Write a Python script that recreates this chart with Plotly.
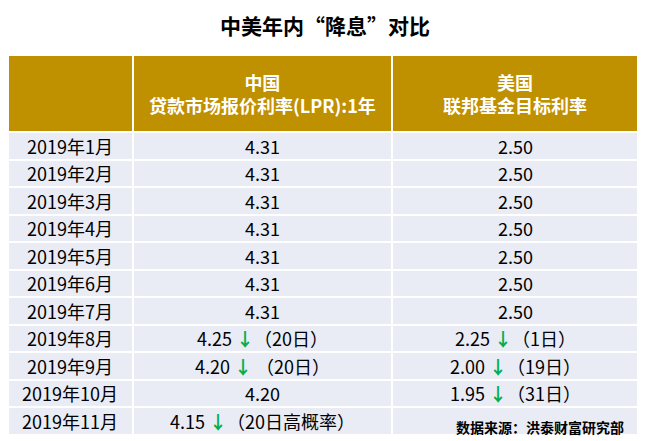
import plotly.graph_objects as go

months = [f"2019年{i}月" for i in range(1, 12)]
cn_vals = ["4.31"] * 7 + ["4.25", "4.20", "4.20", "4.15"]
cn_notes = [""] * 7 + ["（20日）", " （20日）", "", "（20日高概率）"]
cn_down = [False] * 7 + [True, True, False, True]
us_vals = ["2.50"] * 7 + ["2.25", "2.00", "1.95", ""]
us_notes = [""] * 7 + ["（1日）", "（19日）", "（31日）", ""]
us_down = [False] * 7 + [True, True, True, False]
header_lines = [("中国", "贷款市场报价利率(LPR):1年"), ("美国", "联邦基金目标利率")]

ARROW = '<span style="color:#00b050"><b>↓</b></span>'

font = "Noto Sans CJK SC"
OFF = 8  # page body margin
W, H = 650 - OFF, 441 - OFF
x0, x1 = 7 - OFF, 638 - OFF
x0 = max(x0, 0)
top, header_h, row_h = 55 - OFF, 77, 27.5
widths = [125, 260, 246]

fig = go.Figure(go.Table(
    domain=dict(x=[x0/W, x1/W], y=[0, 1 - top/H]),
    columnwidth=widths,
    header=dict(values=["", "", ""], fill_color="#bf9000", line=dict(color="white", width=2),
                height=header_h),
    cells=dict(values=[[""] * len(months)] * 3,
               fill_color="#e9ebf5", line=dict(color="white", width=2), height=row_h),
))
anns = []
def ann(text, xpx, ypx, size, color="black", **kw):
    d = dict(text=text, x=xpx / W, y=1 - ypx / H, xref="paper", yref="paper",
             xanchor="center", yanchor="middle", align="center", showarrow=False,
             font=dict(family=font, size=size, color=color))
    d.update(kw)
    anns.append(d)

left = 7 - OFF
col_centers = []
for w in widths:
    col_centers.append(left + w / 2)
    left += w
for cx, (a, b) in zip(col_centers[1:], header_lines):
    ann(f"<b>{a}</b><br><b>{b}</b>", cx, top + header_h / 2, 18, "white")

def txt(v, n, d):
    return f"{v} {ARROW}{n}" if d else v

for i in range(len(months)):
    yc = top + header_h + row_h * (i + 0.5)
    ann(months[i], col_centers[0], yc, 18)
    ann(txt(cn_vals[i], cn_notes[i], cn_down[i]), col_centers[1], yc, 18)
    if us_vals[i]:
        ann(txt(us_vals[i], us_notes[i], us_down[i]), col_centers[2], yc, 18)

ann("<b>数据来源：洪泰财富研究部</b>", 626 - OFF, 427 - OFF, 14, xanchor="right")
ann("<b>中美年内“降息”对比</b>", 325 - OFF, 25 - OFF, 21)
fig.update_layout(width=W, height=H, margin=dict(l=0, r=0, t=0, b=0), paper_bgcolor="white",
                  annotations=anns)
fig.write_html("out.html")
